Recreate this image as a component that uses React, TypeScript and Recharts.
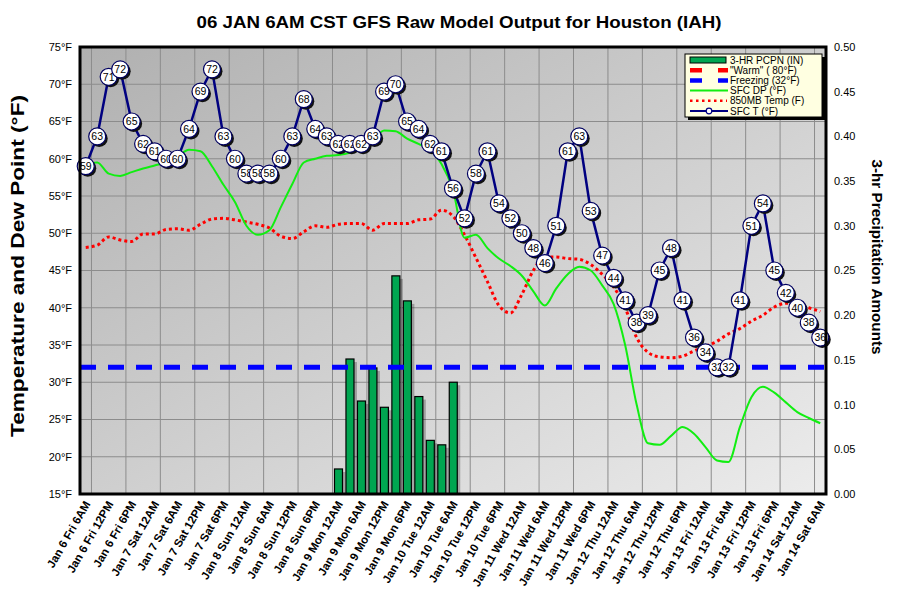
import React from 'react';
import { ComposedChart, Bar, Line, XAxis, YAxis, CartesianGrid, ReferenceLine } from 'recharts';

const FONT = '"Liberation Sans", Arial, sans-serif';

// forecast hours, every 3 hours from Jan 6 Fri 6AM to Jan 14 Sat 6AM
const DAYS = ['Jan 6 Fri', 'Jan 7 Sat', 'Jan 8 Sun', 'Jan 9 Mon', 'Jan 10 Tue', 'Jan 11 Wed', 'Jan 12 Thu', 'Jan 13 Fri', 'Jan 14 Sat'];
const HOURS = ['12AM', '3AM', '6AM', '9AM', '12PM', '3PM', '6PM', '9PM'];
const TIMES = DAYS.flatMap((d) => HOURS.map((h) => `${d} ${h}`)).slice(2, 67);

// SFC T (°F)
const SFC_T = [
  59, 63, 71, 72, 65, 62, 61, 60, 60, 64,
  69, 72, 63, 60, 58, 58, 58, 60, 63, 68,
  64, 63, 62, 62, 62, 63, 69, 70, 65, 64,
  62, 61, 56, 52, 58, 61, 54, 52, 50, 48,
  46, 51, 61, 63, 53, 47, 44, 41, 38, 39,
  45, 48, 41, 36, 34, 32, 32, 41, 51, 54,
  45, 42, 40, 38, 36,
];

// SFC DP (°F)
const SFC_DP = [
  59.3, 59.5, 58.0, 57.7, 58.2, 58.7, 59.1, 59.5, 60.3, 61.2,
  61.0, 59.0, 56.5, 54.2, 51.0, 49.8, 50.4, 53.5, 56.6, 59.5,
  60.0, 60.4, 60.5, 60.8, 61.4, 62.4, 63.8, 63.7, 62.7, 62.0,
  61.2, 59.3, 55.8, 49.4, 49.8, 48.0, 46.6, 45.6, 44.3, 42.2,
  40.3, 42.6, 44.5, 45.5, 45.0, 43.0, 40.5, 35.0, 27.0, 21.8,
  21.6, 22.8, 24.0, 23.1, 21.3, 19.5, 19.3, 24.0, 28.0, 29.4,
  28.6, 27.3, 26.0, 25.2, 24.5,
];

// 850MB Temp (F)
const T850 = [
  48.1, 48.4, 49.5, 49.1, 48.9, 49.9, 49.9, 50.5, 50.6, 50.4,
  51.2, 51.9, 52.0, 51.8, 51.5, 51.2, 50.7, 49.6, 49.3, 50.2,
  51.0, 50.8, 51.2, 51.3, 51.3, 50.4, 51.3, 51.3, 51.3, 51.8,
  51.9, 53.1, 52.3, 49.8, 46.7, 43.5, 40.3, 39.3, 41.8, 45.0,
  46.8, 46.8, 46.6, 46.5, 45.8, 44.5, 42.8, 40.0, 36.0, 34.0,
  33.4, 33.3, 33.5, 34.2, 34.8, 35.5, 36.5, 37.2, 38.2, 39.0,
  40.1, 40.6, 40.5, 40.0, 39.5,
];

// 3-HR PCPN (IN), starting at Jan 9 Mon 12AM
const PCPN_START = 22;
const PCPN = [0.028, 0.151, 0.104, 0.141, 0.097, 0.244, 0.216, 0.109, 0.06, 0.055, 0.125];

const FREEZING = 32;
const TEMP_TICKS = [15, 20, 25, 30, 35, 40, 45, 50, 55, 60, 65, 70, 75];
const PCPN_TICKS = [0, 0.05, 0.1, 0.15, 0.2, 0.25, 0.3, 0.35, 0.4, 0.45, 0.5];

const LABEL_X = TIMES.map((_, i) => i).filter((i) => i % 2 === 0);
const GRID_X = TIMES.slice(1).map((_, i) => i + 0.5);

const rows = TIMES.map((t, i) => ({
  i,
  t,
  temp: SFC_T[i],
  dp: SFC_DP[i],
  t850: T850[i],
  pcpn: PCPN[i - PCPN_START] ?? null,
}));

const TimeTick = (props: any) => {
  const { x, y, payload } = props;
  return (
    <text
      x={0}
      y={0}
      transform={`translate(${x + 5},${y - 28}) rotate(-60)`}
      textAnchor="end"
      fontSize={11.5}
      fontWeight="bold"
      fontFamily={FONT}
      fill="#000"
    >
      {TIMES[payload.value]}
    </text>
  );
};

const TempDot = (props: any) => {
  const { cx, cy, payload } = props;
  if (cx == null || cy == null) return null;
  return (
    <g>
      <circle cx={cx + 2} cy={cy + 2} r={8.5} fill="#111" />
      <circle cx={cx} cy={cy} r={8.5} fill="#fff" stroke="#000060" strokeWidth={1.2} />
      <text x={cx} y={cy} dy="0.36em" textAnchor="middle" fontSize={10.5} fontFamily={FONT} fill="#000">
        {payload.temp}
      </text>
    </g>
  );
};

const ShadowBar = (props: any) => {
  const { x, y, width, height } = props;
  if (!height || height <= 0) return null;
  return (
    <g>
      <rect x={x + 3} y={y + 3} width={width} height={height - 3} fill="#000" opacity={0.25} />
      <rect x={x} y={y} width={width} height={height} fill="#00a651" stroke="#000" strokeWidth={1.2} />
    </g>
  );
};

const LEGEND = [
  { label: '3-HR PCPN (IN)', kind: 'bar' },
  { label: '"Warm" ( 80°F)', kind: 'warm' },
  { label: 'Freezing (32°F)', kind: 'freeze' },
  { label: 'SFC DP (°F)', kind: 'dp' },
  { label: '850MB Temp (F)', kind: 'dots' },
  { label: 'SFC T (°F)', kind: 'temp' },
];

const LegendBox = () => {
  const x0 = 685;
  const y0 = 54;
  return (
    <g>
      <rect x={x0 + 3} y={y0 + 3} width={137} height={63} fill="#000" />
      <rect x={x0} y={y0} width={137} height={63} fill="#ffffe1" stroke="#000" strokeWidth={1} />
      {LEGEND.map((item, k) => {
        const cy = y0 + 6 + k * 10.2;
        let sym = null;
        if (item.kind === 'bar') sym = <rect x={690} y={cy - 3} width={36} height={6} fill="#00a651" stroke="#000" strokeWidth={1} />;
        if (item.kind === 'warm') sym = <line x1={690} x2={728} y1={cy} y2={cy} stroke="#ff0000" strokeWidth={4.5} strokeDasharray="12 16" />;
        if (item.kind === 'freeze') sym = <line x1={690} x2={728} y1={cy} y2={cy} stroke="#0000ff" strokeWidth={4.5} strokeDasharray="12 16" />;
        if (item.kind === 'dp') sym = <line x1={690} x2={728} y1={cy} y2={cy} stroke="#11ee11" strokeWidth={2} />;
        if (item.kind === 'dots') sym = <line x1={690} x2={727} y1={cy} y2={cy} stroke="#ff0000" strokeWidth={2.5} strokeDasharray="2.5 3.5" />;
        if (item.kind === 'temp')
          sym = (
            <g>
              <line x1={690} x2={728} y1={cy} y2={cy} stroke="#000080" strokeWidth={2} />
              <circle cx={709} cy={cy} r={2.8} fill="#fff" stroke="#000080" strokeWidth={1.2} />
            </g>
          );
        return (
          <g key={item.label}>
            {sym}
            <text x={730} y={cy} dy="0.36em" fontSize={10} fontFamily={FONT} fill="#000">
              {item.label}
            </text>
          </g>
        );
      })}
    </g>
  );
};

export default function App() {
  return (
    <div style={{ position: 'absolute', left: 0, top: 0, width: 903, height: 613, background: '#fff' }}>
      <ComposedChart width={903} height={613} data={rows} margin={{ top: 47, right: 17, left: 20, bottom: 9 }}>
        <defs>
          <linearGradient id="plotBg" x1="0" y1="0" x2="1" y2="1">
            <stop offset="0" stopColor="#b0b0b0" />
            <stop offset="1" stopColor="#ececec" />
          </linearGradient>
        </defs>
        <XAxis xAxisId="grid" dataKey="i" type="number" domain={[-0.5, 64.5]} ticks={GRID_X} hide />
        <XAxis
          xAxisId="lab"
          dataKey="i"
          type="number"
          domain={[-0.5, 64.5]}
          ticks={LABEL_X}
          interval={0}
          height={110}
          axisLine={false}
          tickLine={false}
          tick={<TimeTick />}
        />
        <YAxis
          yAxisId="left"
          domain={[15, 75]}
          ticks={TEMP_TICKS}
          width={60}
          axisLine={false}
          tickLine={false}
          tickFormatter={(v) => `${v}°F`}
          tick={{ fontSize: 11, fontFamily: FONT, fill: '#000' }}
        />
        <YAxis
          yAxisId="right"
          orientation="right"
          domain={[0, 0.5]}
          ticks={PCPN_TICKS}
          width={60}
          axisLine={false}
          tickLine={false}
          tickFormatter={(v) => v.toFixed(2)}
          tick={{ fontSize: 11, fontFamily: FONT, fill: '#000', textAnchor: 'start' }}
        />
        <CartesianGrid xAxisId="grid" yAxisId="left" fill="url(#plotBg)" fillOpacity={1} stroke="#8c8c8c" />
        <Bar xAxisId="lab" yAxisId="right" dataKey="pcpn" barSize={8} shape={<ShadowBar />} isAnimationActive={false} />
        <ReferenceLine xAxisId="lab" yAxisId="left" y={FREEZING} stroke="#0000ff" strokeWidth={5} strokeDasharray="16 12" />
        <Line
          xAxisId="lab"
          yAxisId="left"
          dataKey="t850"
          type="monotone"
          stroke="#ff0000"
          strokeWidth={3}
          strokeDasharray="3 3"
          dot={false}
          isAnimationActive={false}
        />
        <Line xAxisId="lab" yAxisId="left" dataKey="dp" type="monotone" stroke="#11ee11" strokeWidth={2} dot={false} isAnimationActive={false} />
        <Line
          xAxisId="lab"
          yAxisId="left"
          dataKey="temp"
          type="linear"
          stroke="#000080"
          strokeWidth={2.5}
          dot={<TempDot />}
          isAnimationActive={false}
        />
      </ComposedChart>
      <svg width={903} height={613} style={{ position: 'absolute', left: 0, top: 0, pointerEvents: 'none' }}>
        <rect x={80} y={47} width={746} height={447} fill="none" stroke="#000" strokeWidth={3} />
        <text x={459} y={28} textAnchor="middle" fontSize={17} fontWeight="bold" fontFamily={FONT} textLength={525} lengthAdjust="spacingAndGlyphs">
          06 JAN 6AM CST GFS Raw Model Output for Houston (IAH)
        </text>
        <text
          transform="translate(24,266) rotate(-90)"
          textAnchor="middle"
          fontSize={18}
          fontWeight="bold"
          fontFamily={FONT}
          textLength={342}
          lengthAdjust="spacingAndGlyphs"
        >
          Temperature and Dew Point (°F)
        </text>
        <text
          transform="translate(872,257) rotate(90)"
          textAnchor="middle"
          fontSize={14}
          fontWeight="bold"
          fontFamily={FONT}
          textLength={195}
          lengthAdjust="spacingAndGlyphs"
        >
          3-hr Precipitation Amounts
        </text>
        <LegendBox />
      </svg>
    </div>
  );
}
